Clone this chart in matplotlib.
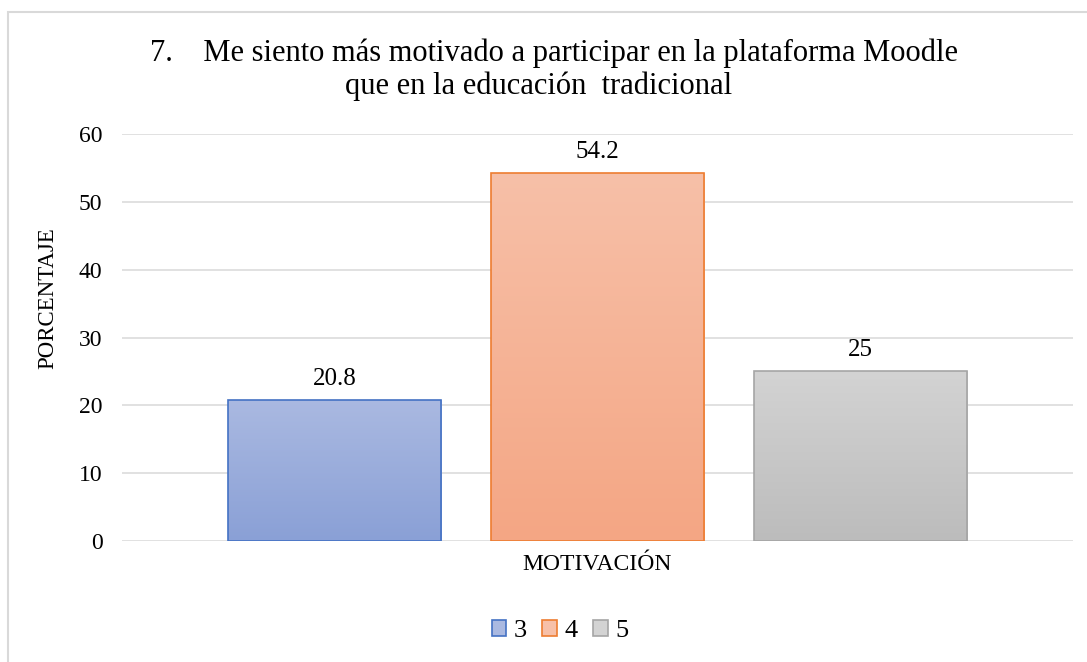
import matplotlib.pyplot as plt
import numpy as np
from matplotlib.colors import LinearSegmentedColormap
from matplotlib.patches import Rectangle

plt.rcParams['font.family'] = ['Liberation Serif', 'DejaVu Serif']

# Datos
categoria = 'MOTIVACIÓN'
series = ['3', '4', '5']
valores = [20.8, 54.2, 25]
etiquetas = ['20.8', '54.2', '25']

bordes = ['#4472C4', '#ED7D31', '#A5A5A5']
arriba = ['#AAB9E1', '#F7C0A8', '#D3D3D3']
abajo = ['#8AA0D6', '#F4A684', '#BCBCBC']

W, H = 1087, 662
fig = plt.figure(figsize=(W / 100, H / 100), dpi=100)
ax = fig.add_axes([122 / W, 1 - 541 / H, 951 / W, 407 / H])

ancho = 0.224
paso = 0.2765
ax.set_xlim(0, 1)
ax.set_ylim(0, 60)

for i, (v, lab) in enumerate(zip(valores, etiquetas)):
    x0 = 0.5 + (i - 1) * paso - ancho / 2
    cmap = LinearSegmentedColormap.from_list('g', [abajo[i], arriba[i]])
    grad = np.linspace(0, 1, 256).reshape(-1, 1)
    im = ax.imshow(grad, cmap=cmap, aspect='auto', origin='lower',
                   extent=[x0, x0 + ancho, 0, v], zorder=2)
    rect = Rectangle((x0, 0), ancho, v, facecolor='none',
                     edgecolor=bordes[i], linewidth=1.2, zorder=3)
    ax.add_patch(rect)
    im.set_clip_path(rect)
    ax.annotate(lab, (x0 + ancho / 2, v), xytext=(0, 11), textcoords='offset points',
                ha='center', va='baseline', fontsize=18)

ax.set_yticks(np.arange(0, 61, 10))
ax.grid(axis='y', color='#D9D9D9', linewidth=1.1, zorder=0)
ax.set_axisbelow(True)
for s in ax.spines.values():
    s.set_visible(False)
ax.tick_params(axis='y', length=0, labelsize=17, pad=14)
ax.set_xticks([])

# título del eje x (categoría)
fig.text(597 / W, 1 - 570 / H, categoria, ha='center', va='baseline', fontsize=17)
# título del eje y
fig.text(47.5 / W, 1 - 298 / H, 'PORCENTAJE', ha='center', va='center',
         rotation=90, fontsize=16.5)

# título
fig.text(150 / W, 1 - 61 / H, '7.    Me siento más motivado a participar en la plataforma Moodle',
         ha='left', va='baseline', fontsize=22)
fig.text(345 / W, 1 - 94 / H, 'que en la educación  tradicional',
         ha='left', va='baseline', fontsize=22)

handles = [Rectangle((0, 0), 1, 1, facecolor=arriba[i], edgecolor=bordes[i], linewidth=1.2)
           for i in range(3)]
fig.legend(handles, series, loc='center', bbox_to_anchor=(560 / W, 1 - 631 / H), ncol=3,
           frameon=False, fontsize=19, handlelength=0.55, handleheight=0.55,
           handletextpad=0.28, columnspacing=0.6, borderpad=0, borderaxespad=0)

# marco
fig.add_artist(Rectangle((8 / W, -0.1), 1.2, (1 - 12 / H) + 0.1,
                         transform=fig.transFigure, facecolor='none',
                         edgecolor='#D9D9D9', linewidth=1.5))

fig.savefig('out.png', dpi=100)
